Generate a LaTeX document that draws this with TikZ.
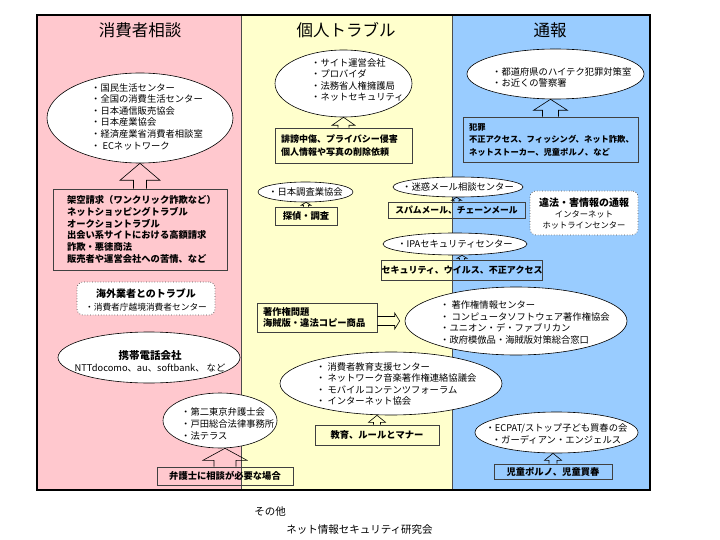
\documentclass[tikz,border=0pt]{standalone}
\usepackage{fontspec}
\setmainfont{Noto Sans CJK JP}
\usetikzlibrary{shapes.geometric,calc}
\definecolor{pinkc}{HTML}{FFC8CE}
\definecolor{yelc}{HTML}{FFFFCC}
\definecolor{bluec}{HTML}{99CCFF}
\newcommand\fsn{\fontsize{9.3}{11.6}\selectfont}
\newcommand\fsb{\fontsize{9.3}{11.8}\selectfont\bfseries}
% hollow up arrow: #1 box, #2 ellipse, #3 shaft half width, #4 head half width, #5 head height
\newcommand\upar[5]{%
  \draw[harrow] let \p1=(#1.north), \p2=(#2.south) in
    (\x1-#3pt,\y1) -- (\x1-#3pt,\y2-#5pt) -- (\x1-#4pt,\y2-#5pt) -- (\x1,\y2)
    -- (\x1+#4pt,\y2-#5pt) -- (\x1+#3pt,\y2-#5pt) -- (\x1+#3pt,\y1);}
\begin{document}
\begin{tikzpicture}[x=1pt,y=-1pt,
  ell/.style={ellipse, draw=black, line width=0.6pt, fill=white, inner sep=0pt},
  txt/.style={inner sep=0pt, align=left, font=\fsn},
  ctxt/.style={inner sep=0pt, align=center, font=\fsn},
  box/.style={draw=black!75, line width=0.7pt, inner sep=0pt, font=\fsb},
  dbox/.style={draw=black!70, line width=0.7pt, dotted, rounded corners=6pt, fill=white, inner sep=0pt},
  title/.style={inner sep=0pt, font=\fontsize{16.5}{18}\selectfont},
  harrow/.style={draw=black, line width=0.6pt, line join=miter}]
\useasboundingbox (0,0) rectangle (720,540);
% columns
\fill[pinkc] (37,15) rectangle (241,490);
\fill[yelc] (241,15) rectangle (452,490);
\fill[bluec] (452,15) rectangle (650,490);
\draw[black!70, line width=0.5pt] (241,15) -- (241,490) (452,15) -- (452,490);
\draw[black, line width=2pt] (37,15) rectangle (650,490);
% titles
\node[title] (t1) at (140,30) {消費者相談};
\node[title] (t2) at (346,30) {個人トラブル};
\node[title] (t3) at (550,30) {通報};

% ---------- consumer column ----------
\node[ell, minimum width=186pt, minimum height=90pt] (e1) at (140,118) {};
\node[txt, anchor=west] (e1t) at (91,116.5) {・国民生活センター\\・全国の消費生活センター\\・日本通信販売協会\\・日本産業協会\\・経済産業省消費者相談室\\・ ECネットワーク};
\node[box, minimum width=174pt, minimum height=81pt, text width=146pt, inner xsep=14pt, align=left] (b1) at (140,229.5)
  {架空請求（ワンクリック詐欺など）\\ネットショッピングトラブル\\オークショントラブル\\出会い系サイトにおける高額請求\\詐欺・悪徳商法\\販売者や運営会社への苦情、など};
\upar{b1}{e1}{6.5}{20}{17}

\node[dbox, minimum width=138pt, minimum height=33pt] (d1) at (146,298.5) {};
\node[ctxt, font=\fontsize{8.7}{13}\selectfont] (d1t) at (146,299.5) {{\fontsize{10}{12}\selectfont\bfseries 海外業者とのトラブル}\\・消費者庁越境消費者センター};

\node[ell, minimum width=182pt, minimum height=51pt] (e2) at (149,357.5) {};
\node[ctxt, font=\fontsize{9.3}{12}\selectfont] (e2t) at (150,361) {{\fontsize{10.5}{12}\selectfont\bfseries 携帯電話会社}\\NTTdocomo、au、softbank、 など};

\node[ell, minimum width=114pt, minimum height=55pt] (e3) at (220,420.5) {};
\node[txt, anchor=west] (e3t) at (181,424) {・第二東京弁護士会\\・戸田総合法律事務所\\・法テラス};
\node[box, minimum width=136pt, minimum height=18pt] (b3) at (225,476) {弁護士に相談が必要な場合};
\upar{b3}{e3}{11}{22}{12}

% ---------- personal column ----------
\node[ell, minimum width=137pt, minimum height=67pt] (e4) at (343.5,83.5) {};
\node[txt, anchor=west] (e4t) at (311,80) {・サイト運営会社\\・プロバイダ\\・法務省人権擁護局\\・ネットセキュリティ};
\node[box, minimum width=137pt, minimum height=35pt, text width=125pt, inner xsep=6pt, align=left, font=\fontsize{9}{12.5}\selectfont\bfseries] (b4) at (343.5,145.5)
  {誹謗中傷、プライバシー侵害\\個人情報や写真の削除依頼};
\upar{b4}{e4}{5.5}{11.5}{8}

\node[ell, minimum width=95pt, minimum height=20pt] (e5) at (305.5,192) {};
\node[ctxt] (e5t) at (305.5,192) {・日本調査業協会};
\node[box, minimum width=62pt, minimum height=18pt] (b5) at (306,216) {探偵・調査};
\upar{b5}{e5}{2.5}{5}{3}

\node[ell, minimum width=130pt, minimum height=20pt] (e6) at (458,187) {};
\node[ctxt] (e6t) at (458,187) {・迷惑メール相談センター};
\node[box, minimum width=137pt, minimum height=16pt, font=\fontsize{8.8}{11}\selectfont\bfseries] (b6) at (456.5,210) {スパムメール、チェーンメール};
\upar{b6}{e6}{2.5}{5}{3}

\node[ell, minimum width=144pt, minimum height=22pt] (e7) at (455,244) {};
\node[ctxt] (e7t) at (455,244) {・IPAセキュリティセンター};
\node[box, minimum width=158pt, minimum height=20pt, font=\fontsize{9}{11}\selectfont\bfseries] (b7) at (462,270) {セキュリティ、ウイルス、不正アクセス};
\upar{b7}{e7}{2.5}{5}{3}

\node[box, minimum width=120pt, minimum height=29pt, text width=108pt, inner xsep=6pt, align=left] (b8) at (317,317.5)
  {著作権問題\\海賊版・違法コピー商品};
\node[ell, minimum width=222pt, minimum height=68pt] (e8) at (516,321) {};
\node[txt, anchor=west] (e8t) at (440,322.5) {・ 著作権情報センター\\・ コンピュータソフトウェア著作権協会\\・ユニオン・デ・ファブリカン\\・政府模倣品・海賊版対策総合窓口};
\draw[harrow] let \p1=(b8.east), \p2=(e8.west) in
  (\x1,\y2+4.5pt) -- (\x2-10pt,\y2+4.5pt) -- (\x2-10pt,\y2+8pt) -- (\x2-5pt,\y2)
  -- (\x2-10pt,\y2-8pt) -- (\x2-10pt,\y2-4.5pt) -- (\x1,\y2-4.5pt);

\node[ell, minimum width=222pt, minimum height=63pt] (e9) at (391,383.5) {};
\node[txt, anchor=west] (e9t) at (316,384) {・ 消費者教育支援センター\\・ ネットワーク音楽著作権連絡協議会\\・ モバイルコンテンツフォーラム\\・ インターネット協会};
\node[box, minimum width=124pt, minimum height=20pt] (b9) at (377,435) {教育、ルールとマナー};
\upar{b9}{e9}{3.5}{8.5}{7}

% ---------- report column ----------
\node[ell, minimum width=177pt, minimum height=50pt] (e10) at (555.5,74) {};
\node[txt, anchor=west] (e10t) at (492,77.5) {・都道府県のハイテク犯罪対策室\\・お近くの警察署};
\node[box, minimum width=175pt, minimum height=45pt, text width=163pt, inner xsep=6pt, align=left, font=\fontsize{8.3}{12.5}\selectfont\bfseries] (b10) at (550.5,139.5)
  {犯罪\\不正アクセス、フィッシング、ネット詐欺、\\ネットストーカー、児童ポルノ、など};
\upar{b10}{e10}{8}{17}{11}

\node[dbox, minimum width=108pt, minimum height=44pt] (d2) at (584,213) {};
\node[ctxt, font=\fontsize{8.3}{11}\selectfont] (d2t) at (584,214) {{\fontsize{10}{12}\selectfont\bfseries 違法・害情報の通報}\\インターネット\\ホットラインセンター};

\node[ell, minimum width=163pt, minimum height=41pt] (e11) at (556.5,432.5) {};
\node[ctxt] (e11t) at (556.5,434) {・ECPAT/ストップ子ども買春の会\\・ガーディアン・エンジェルス};
\node[box, minimum width=118pt, minimum height=15pt] (b11) at (553,471.5) {児童ポルノ、児童買春};
\upar{b11}{e11}{4}{8.5}{7}

% ---------- bottom ----------
\node[inner sep=0pt, font=\fontsize{10.5}{12}\selectfont] (o1) at (270,512) {その他};
\node[inner sep=0pt, font=\fontsize{10.5}{12}\selectfont] (o2) at (359.5,530) {ネット情報セキュリティ研究会};
\end{tikzpicture}
\end{document}
